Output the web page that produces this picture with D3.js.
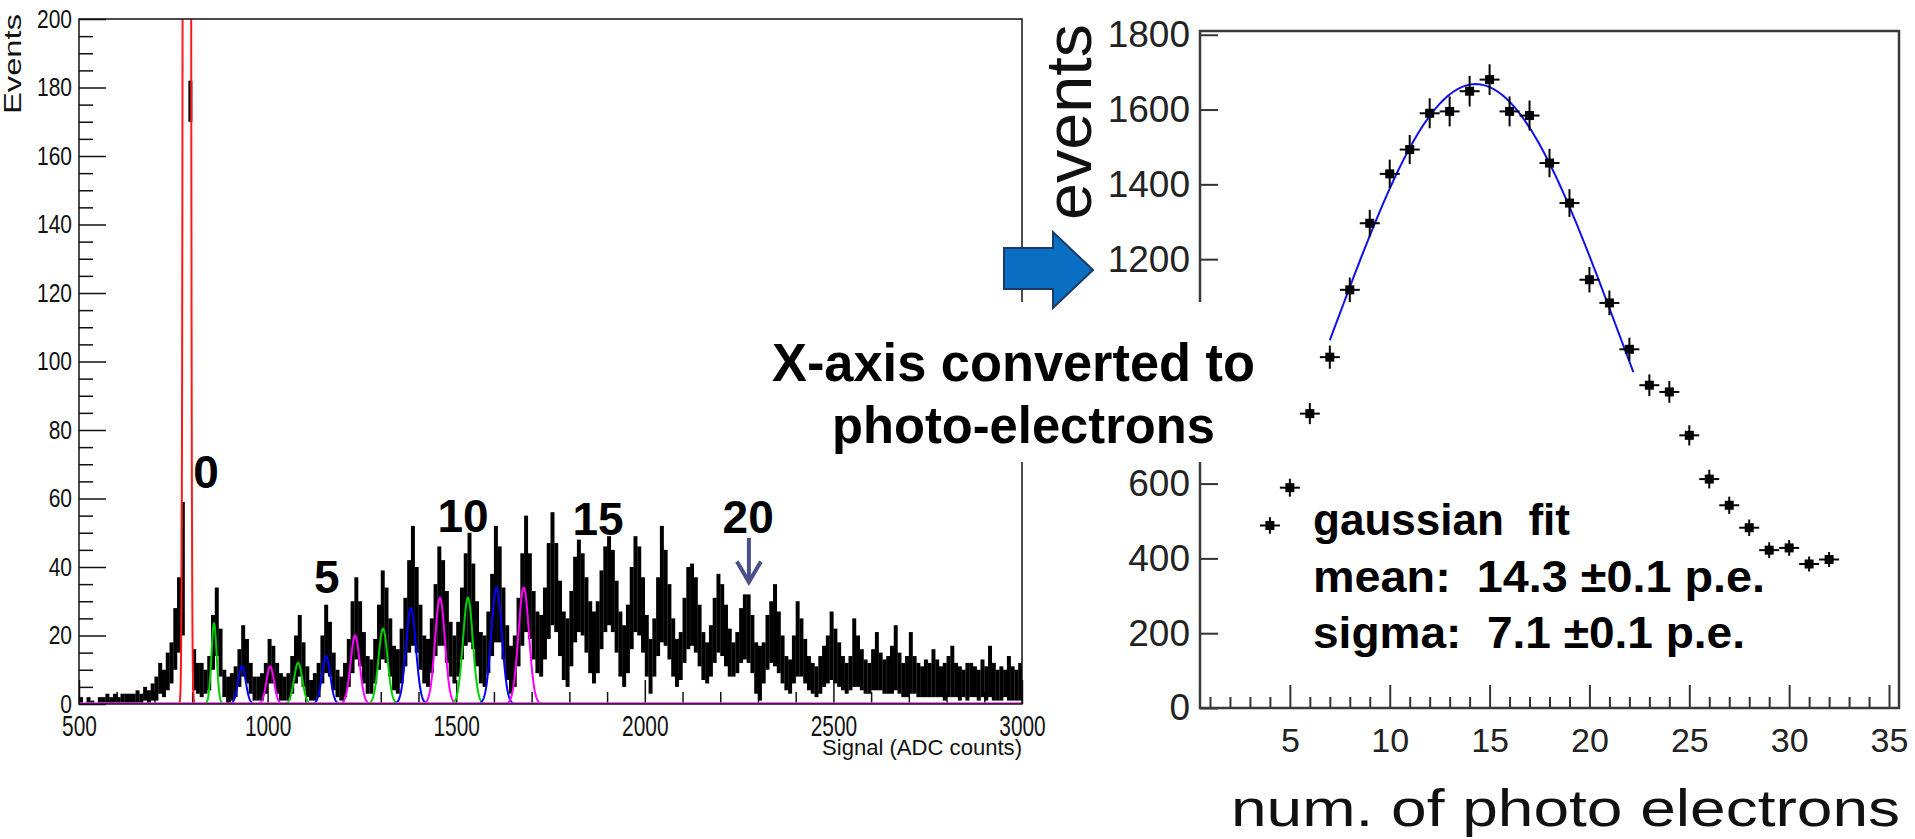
<!DOCTYPE html>
<html>
<head>
<meta charset="utf-8">
<script src="https://cdn.jsdelivr.net/npm/d3@7"></script>
<style>
body { margin: 0; background: #fff; }
svg { display: block; font-family: "Liberation Sans", Arial, sans-serif; }
</style>
</head>
<body>
<script>
// ---------- left panel data: ADC spectrum, 10-count bins from 500 ----------
var adcStart = 500;
var adcBin = 10;
// upper / lower edge of the black histogram band in each bin (events)
var bandHi = [
  2,0,2,1,0,2,2,3,2,3, 2,3,3,3,3,4,3,5,4,6,
  8,12,10,15,18,28,37,59,1400,182,
  16,12,12,10,14,26,34,22,10,8,
  9,11,16,23,19,12,8,8,9,12,
  19,17,12,9,8,9,14,20,26,18,
  11,7,9,12,20,29,24,15,10,8,
  12,19,30,37,30,21,14,13,19,29,
  39,34,25,17,16,22,31,42,52,40,
  29,20,19,25,35,46,42,33,24,20,
  24,34,44,50,41,30,21,20,27,38,
  52,46,34,23,17,20,31,44,55,44,
  33,27,26,34,47,56,47,36,27,25,
  33,43,48,44,37,30,27,30,39,46,
  49,45,36,27,23,29,40,49,46,37,
  26,19,25,37,52,45,35,25,19,21,
  31,40,41,37,29,21,18,23,31,38,
  35,29,22,18,21,28,32,32,26,18,
  17,18,26,30,35,27,20,14,13,20,
  30,25,19,14,12,11,14,17,20,27,
  22,18,14,12,14,25,20,16,13,12,
  16,21,15,13,14,17,23,15,12,14,
  21,14,12,11,13,12,16,13,11,12,
  14,17,12,11,10,12,12,11,10,13,
  11,17,12,10,11,10,14,11,10,12
];
var bandLo = [
  0,0,0,0,0,0,0,0,0,0, 0,0,0,0,0,0,0,1,0,1,
  1,3,2,4,6,10,15,20,1200,170,
  4,3,2,3,4,10,14,8,2,0,
  1,2,5,8,6,3,1,1,1,3,
  6,6,3,1,1,1,3,6,8,5,
  2,1,1,2,6,9,8,4,2,1,
  2,5,9,13,11,6,3,3,6,10,
  13,12,8,4,3,6,11,15,17,15,
  10,6,5,9,14,17,17,12,8,6,
  8,13,17,18,16,11,6,5,9,14,
  18,18,13,7,3,5,11,17,21,19,
  13,9,8,13,19,23,21,14,7,5,
  11,18,21,20,15,9,6,9,16,21,
  23,21,15,8,5,9,16,21,20,15,
  8,3,8,14,18,17,13,8,5,7,
  12,16,17,15,11,7,6,8,12,15,
  14,11,8,8,9,12,13,12,9,3,
  1,6,10,12,11,9,6,4,3,6,
  8,8,6,4,3,2,3,5,6,7,
  6,5,4,3,4,5,5,4,3,3,
  4,4,4,3,3,3,4,3,2,2,
  3,3,2,2,2,2,2,2,2,1,
  2,2,2,1,2,1,2,2,1,2,
  1,2,1,1,1,2,1,1,1,1
];

// single photo-electron peak fits (gaussians)
var fitMean  = [858, 932, 1007, 1081, 1155, 1232, 1306, 1380, 1457, 1531, 1607, 1679];
var fitSigma = [7, 10, 10, 11, 11, 12, 12, 13, 13, 13, 14, 14];
var fitAmp   = [23.5, 11, 11, 12, 14, 20, 22, 28, 31, 31, 34, 34];
var fitColors = ["#00d000", "#0000ff", "#ff00ff"];
// pedestal fit
var pedMean = 786, pedSigma = 4.5, pedAmp = 5000;

// peak labels (text, adc, events)
var peakLabels = ["0", "5", "10", "15", "20"];
var peakLabelAdc = [837, 1157, 1518, 1876, 2274];
var peakLabelEv = [63, 32.4, 50.2, 49.3, 49.9];

// ---------- right panel data: events vs photo electrons ----------
var peX = [4,5,6,7,8,9,10,11,12,13,14,15,16,17,18,19,20,21,22,23,24,25,26,27,28,29,30,31,32];
var peEvents = [488,589,787,938,1118,1296,1428,1493,1590,1595,1649,1680,1595,1584,1457,1350,
                1145,1083,959,863,845,729,612,542,482,422,428,385,397];
var peErr = [22,24,28,31,33,36,38,39,40,40,41,41,40,40,38,37,34,33,31,29,29,27,25,23,22,21,21,20,20];
var gausMean = 14.3, gausSigma = 7.1, gausAmp = 1668;
var gausRange = [7, 22.2];
// y tick values hidden behind the conversion note
var hiddenTicks = [800, 1000];

// ---------- drawing ----------
var width = 1915;
var height = 839;

var svg = d3.select("body")
    .append("svg")
    .attr("width", width)
    .attr("height", height);

// stretch text to a measured width / squeeze it by a factor
function fitWidth(sel, w) {
    sel.attr("textLength", w).attr("lengthAdjust", "spacingAndGlyphs");
}
function condense(sel, k) {
    sel.each(function () {
        var w = this.getComputedTextLength();
        d3.select(this).attr("textLength", w * k).attr("lengthAdjust", "spacingAndGlyphs");
    });
}

// ================= left panel =================
var L = { x0: 79, x1: 1022, y0: 19, y1: 704 };
var xL = d3.scaleLinear().domain([500, 3000]).range([L.x0, L.x1]);
var yL = d3.scaleLinear().domain([0, 200]).range([L.y1, L.y0]);

svg.append("clipPath").attr("id", "clipL")
    .append("rect")
    .attr("x", L.x0).attr("y", L.y0)
    .attr("width", L.x1 - L.x0).attr("height", L.y1 - L.y0);

// ticks (inside)
var gyMinor = svg.append("g")
    .attr("transform", "translate(" + L.x0 + ",0)")
    .call(d3.axisLeft(yL).tickValues(d3.range(0, 201, 5).filter(function (v) { return v % 20; }))
        .tickSize(-14).tickFormat(""));
var gy = svg.append("g")
    .attr("transform", "translate(" + L.x0 + ",0)")
    .call(d3.axisLeft(yL).tickValues(d3.range(0, 201, 20)).tickSize(-27).tickPadding(7)
        .tickFormat(d3.format("d")));
var gxMinor = svg.append("g")
    .attr("transform", "translate(0," + L.y1 + ")")
    .call(d3.axisBottom(xL).tickValues(d3.range(500, 3001, 100).filter(function (v) { return v % 500; }))
        .tickSize(-12).tickFormat(""));
var gx = svg.append("g")
    .attr("transform", "translate(0," + L.y1 + ")")
    .call(d3.axisBottom(xL).tickValues(d3.range(500, 3001, 500)).tickSize(-24).tickPadding(11)
        .tickFormat(d3.format("d")));

[gyMinor, gy, gxMinor, gx].forEach(function (g) {
    g.select(".domain").remove();
    g.attr("font-family", null).attr("font-size", null);
    g.selectAll("line").attr("stroke", "#111").attr("stroke-width", 1.5);
});
gy.selectAll("text").attr("font-size", 25).attr("fill", "#111").call(condense, 0.84);
gx.selectAll("text").attr("font-size", 29).attr("fill", "#111").call(condense, 0.72);

// histogram band
var bins = bandHi.map(function (h, i) {
    return { adc: adcStart + i * adcBin, hi: h, lo: bandLo[i] };
}).filter(function (d) { return d.hi > 0; });
var binW = xL(adcStart + adcBin) - xL(adcStart);

svg.append("g")
    .attr("clip-path", "url(#clipL)")
    .selectAll("rect")
    .data(bins)
    .join("rect")
    .attr("x", function (d) { return xL(d.adc); })
    .attr("width", binW + 0.2)
    .attr("y", function (d) { return yL(d.hi); })
    .attr("height", function (d) { return Math.max(1.2, yL(d.lo) - yL(d.hi)); })
    .attr("fill", "#000");

// gaussian fits of the single p.e. peaks
var lineL = d3.line()
    .x(function (d) { return xL(d[0]); })
    .y(function (d) { return yL(d[1]); });
var gFits = svg.append("g").attr("clip-path", "url(#clipL)");
fitMean.forEach(function (m, i) {
    var s = fitSigma[i], a = fitAmp[i];
    var pts = d3.range(m - 3.6 * s, m + 3.6 * s + 0.5, 1).map(function (x) {
        return [x, a * Math.exp(-0.5 * Math.pow((x - m) / s, 2))];
    });
    gFits.append("path")
        .attr("d", lineL(pts))
        .attr("fill", "none")
        .attr("stroke", fitColors[i % 3])
        .attr("stroke-width", 2);
});

// pedestal fit (red)
var pedPts = d3.range(pedMean - 26, pedMean + 26.1, 0.5).map(function (x) {
    return [x, pedAmp * Math.exp(-0.5 * Math.pow((x - pedMean) / pedSigma, 2))];
});
gFits.append("path")
    .attr("d", lineL(pedPts))
    .attr("fill", "none")
    .attr("stroke", "#ff1a1a")
    .attr("stroke-width", 2);

// magenta baseline
gFits.append("path")
    .attr("d", lineL([[500, 0], [3000, 0]]))
    .attr("stroke", "#ff33ff")
    .attr("stroke-width", 3.5);

// frame
svg.append("rect")
    .attr("x", L.x0).attr("y", L.y0)
    .attr("width", L.x1 - L.x0).attr("height", L.y1 - L.y0)
    .attr("fill", "none").attr("stroke", "#111").attr("stroke-width", 1.5);

// axis titles
svg.append("text")
    .attr("transform", "translate(21,14) rotate(-90)")
    .attr("text-anchor", "end")
    .attr("font-size", 23)
    .attr("fill", "#111")
    .text("Events")
    .call(fitWidth, 100);
svg.append("text")
    .attr("x", L.x1).attr("y", 755)
    .attr("text-anchor", "end")
    .attr("font-size", 22)
    .attr("fill", "#111")
    .text("Signal (ADC counts)")
    .call(fitWidth, 200);

// peak number labels
peakLabels.forEach(function (t, i) {
    svg.append("text")
        .attr("x", xL(peakLabelAdc[i]))
        .attr("y", yL(peakLabelEv[i]))
        .attr("text-anchor", "middle")
        .attr("font-size", 46)
        .attr("font-weight", "bold")
        .attr("fill", "#000")
        .text(t);
});

// arrow at peak 20
var arrowAdc = 2276;
svg.append("line")
    .attr("x1", xL(arrowAdc)).attr("x2", xL(arrowAdc))
    .attr("y1", yL(48.5)).attr("y2", yL(35.8))
    .attr("stroke", "#4b4f8c").attr("stroke-width", 4);
svg.append("path")
    .attr("d", "M" + (xL(arrowAdc) - 12) + "," + (yL(35.8) - 20) +
               "L" + xL(arrowAdc) + "," + yL(35.6) +
               "L" + (xL(arrowAdc) + 12) + "," + (yL(35.8) - 20))
    .attr("fill", "none").attr("stroke", "#4b4f8c").attr("stroke-width", 4);

// ================= right panel =================
var R = { x0: 1200, x1: 1899, y0: 31, y1: 708 };
var xR = d3.scaleLinear().domain([0.5, 35.5]).range([R.x0, R.x1]);
var yR = d3.scaleLinear().domain([0, 1810]).range([R.y1, R.y0]);

var gyR = svg.append("g")
    .attr("transform", "translate(" + R.x0 + ",0)")
    .call(d3.axisLeft(yR)
        .tickValues(d3.range(0, 1801, 200).filter(function (v) { return hiddenTicks.indexOf(v) < 0; }))
        .tickSize(-18).tickPadding(10)
        .tickFormat(d3.format("d")));
var gxRMinor = svg.append("g")
    .attr("transform", "translate(0," + R.y1 + ")")
    .call(d3.axisBottom(xR).tickValues(d3.range(1, 36).filter(function (v) { return v % 5; }))
        .tickSize(-11).tickFormat(""));
var gxR = svg.append("g")
    .attr("transform", "translate(0," + R.y1 + ")")
    .call(d3.axisBottom(xR).tickValues(d3.range(5, 36, 5)).tickSize(-23).tickPadding(20)
        .tickFormat(d3.format("d")));
[gyR, gxRMinor, gxR].forEach(function (g) {
    g.select(".domain").remove();
    g.attr("font-family", null).attr("font-size", null);
    g.selectAll("line").attr("stroke", "#333").attr("stroke-width", 2);
});
gyR.selectAll("text").attr("font-size", 37).attr("fill", "#222");
gxR.selectAll("text").attr("font-size", 34).attr("fill", "#222");

svg.append("rect")
    .attr("x", R.x0).attr("y", R.y0)
    .attr("width", R.x1 - R.x0).attr("height", R.y1 - R.y0)
    .attr("fill", "none").attr("stroke", "#3a3a3a").attr("stroke-width", 2.5);

// gaussian fit (blue)
var lineR = d3.line()
    .x(function (d) { return xR(d[0]); })
    .y(function (d) { return yR(d[1]); });
var gPts = d3.range(gausRange[0], gausRange[1] + 0.01, 0.1).map(function (x) {
    return [x, gausAmp * Math.exp(-0.5 * Math.pow((x - gausMean) / gausSigma, 2))];
});
svg.append("path")
    .attr("d", lineR(gPts))
    .attr("fill", "none")
    .attr("stroke", "#1010ee")
    .attr("stroke-width", 2);

// data points with error bars
var pts = peX.map(function (x, i) { return { x: x, y: peEvents[i], e: peErr[i] }; });
var gp = svg.append("g").selectAll("g").data(pts).join("g");
gp.append("line")
    .attr("x1", function (d) { return xR(d.x - 0.5); })
    .attr("x2", function (d) { return xR(d.x + 0.5); })
    .attr("y1", function (d) { return yR(d.y); })
    .attr("y2", function (d) { return yR(d.y); })
    .attr("stroke", "#000").attr("stroke-width", 2);
gp.append("line")
    .attr("x1", function (d) { return xR(d.x); })
    .attr("x2", function (d) { return xR(d.x); })
    .attr("y1", function (d) { return yR(d.y + d.e); })
    .attr("y2", function (d) { return yR(d.y - d.e); })
    .attr("stroke", "#000").attr("stroke-width", 2);
gp.append("rect")
    .attr("x", function (d) { return xR(d.x) - 4.5; })
    .attr("y", function (d) { return yR(d.y) - 4.5; })
    .attr("width", 9).attr("height", 9)
    .attr("fill", "#000");

// fit results
var fitLines = ["gaussian  fit", "mean:  14.3 \u00b10.1 p.e.", "sigma:  7.1 \u00b10.1 p.e."];
var fitLineY = [535, 592, 648];
var fitLineW = [257, 452, 432];
fitLines.forEach(function (t, i) {
    svg.append("text")
        .attr("x", 1313).attr("y", fitLineY[i])
        .attr("font-size", 44)
        .attr("font-weight", "bold")
        .attr("fill", "#000")
        .style("white-space", "pre")
        .text(t)
        .call(fitWidth, fitLineW[i]);
});

svg.append("text")
    .attr("transform", "translate(1091,24) rotate(-90)")
    .attr("text-anchor", "end")
    .attr("font-size", 64)
    .attr("fill", "#111")
    .text("events")
    .call(fitWidth, 196);
svg.append("text")
    .attr("x", 1231).attr("y", 826)
    .attr("font-size", 52)
    .attr("fill", "#111")
    .text("num. of photo electrons")
    .call(fitWidth, 669);

// ================= middle: conversion note =================
svg.append("rect")
    .attr("x", 765).attr("y", 302)
    .attr("width", 470).attr("height", 160)
    .attr("fill", "#fff");
svg.append("text")
    .attr("x", 772).attr("y", 381)
    .attr("font-size", 54)
    .attr("font-weight", "bold")
    .attr("fill", "#000")
    .text("X-axis converted to")
    .call(fitWidth, 483);
svg.append("text")
    .attr("x", 832).attr("y", 443)
    .attr("font-size", 52)
    .attr("font-weight", "bold")
    .attr("fill", "#000")
    .text("photo-electrons")
    .call(fitWidth, 383);

// block arrow
svg.append("path")
    .attr("d", "M1004,248 L1053,248 L1053,232 L1093,270 L1053,308 L1053,289 L1004,289 Z")
    .attr("fill", "#0a6fc2")
    .attr("stroke", "#1b3a66")
    .attr("stroke-width", 2);
</script>
</body>
</html>
